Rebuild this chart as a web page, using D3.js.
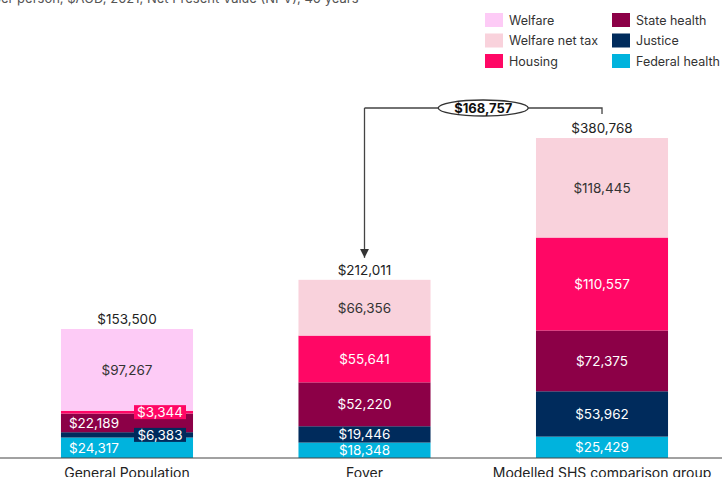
<!DOCTYPE html>
<html>
<head>
<meta charset="utf-8">
<script src="https://cdn.jsdelivr.net/npm/d3@7"></script>
<style>
  body { margin: 0; background: #fff; }
  svg { display: block; font-family: Inter, "Liberation Sans", sans-serif; }
</style>
</head>
<body>
<svg id="chart" width="722" height="477"></svg>
<script>
// data
const categories = ["General Population", "Fover", "Modelled SHS comparison group"];
const federalHealth = [24317, 18348, 25429];
const justice = [6383, 19446, 53962];
const stateHealth = [22189, 52220, 72375];
const housing = [3344, 55641, 110557];
const welfareNetTax = [0, 66356, 118445];
const welfare = [97267, 0, 0];

const seriesNames = ["Federal health", "Justice", "State health", "Housing", "Welfare net tax", "Welfare"];
const seriesValues = [federalHealth, justice, stateHealth, housing, welfareNetTax, welfare];
const seriesColors = ["#00b3dd", "#002b5c", "#8c0047", "#ff0765", "#f9d2dc", "#fdcbf6"];
const legendOrder = ["Welfare", "Welfare net tax", "Housing", "State health", "Justice", "Federal health"];

const svg = d3.select("#chart");
const baseY = 458;

const table = categories.map((c, i) => {
  const row = { cat: c };
  seriesNames.forEach((s, j) => row[s] = seriesValues[j][i]);
  return row;
});
const totals = table.map(r => d3.sum(seriesNames, s => r[s]));

const x = d3.scaleBand()
  .domain(categories)
  .range([8, 721])
  .paddingInner(0.444)
  .paddingOuter(0.223);

const y = d3.scaleLinear()
  .domain([0, d3.max(totals)])
  .range([baseY, 138]);

const color = d3.scaleOrdinal().domain(seriesNames).range(seriesColors);

const stack = d3.stack().keys(seriesNames)(table);

// subtitle, cut at the top like the reference
svg.append("text")
  .attr("x", -7)
  .attr("y", 3)
  .style("font-size", "13px")
  .style("fill", "#555")
  .text("per person, $AUD, 2021, Net Present Value (NPV), 40 years");

// bars
const layers = svg.selectAll(".layer")
  .data(stack)
  .enter().append("g")
  .attr("class", "layer")
  .attr("fill", d => color(d.key));

layers.selectAll("rect")
  .data(d => d.map(p => ({ key: d.key, p: p })))
  .enter().append("rect")
  .attr("x", d => x(d.p.data.cat))
  .attr("y", d => y(d.p[1]))
  .attr("width", x.bandwidth())
  .attr("height", d => y(d.p[0]) - y(d.p[1]));

// segment labels
const darkText = ["Welfare", "Welfare net tax"];
const boxed = ["Housing", "Justice"];
const segs = [];
stack.forEach(layer => layer.forEach(p => {
  const v = p[1] - p[0];
  if (v > 0) segs.push({ key: layer.key, cat: p.data.cat, v: v, y0: p[0], y1: p[1] });
}));

segs.forEach(s => {
  const cy = (y(s.y0) + y(s.y1)) / 2;
  let cx = x(s.cat) + x.bandwidth() / 2;
  const small = s.cat === "General Population" && s.key !== "Welfare";
  if (small) cx = x(s.cat) + x.bandwidth() * (boxed.includes(s.key) ? 0.75 : 0.25);
  const label = "$" + d3.format(",")(s.v);
  if (small && boxed.includes(s.key)) {
    svg.append("rect")
      .attr("x", cx - 26)
      .attr("y", cy - 7)
      .attr("width", 52)
      .attr("height", 14)
      .attr("fill", color(s.key));
  }
  svg.append("text")
    .attr("x", cx)
    .attr("y", cy)
    .attr("dy", "0.36em")
    .attr("text-anchor", "middle")
    .style("font-size", "13.5px")
    .style("fill", darkText.includes(s.key) ? "#333" : "#fff")
    .text(label);
});

// totals above bars
svg.selectAll(".total")
  .data(categories)
  .enter().append("text")
  .attr("class", "total")
  .attr("x", d => x(d) + x.bandwidth() / 2)
  .attr("y", (d, i) => y(totals[i]) - 5)
  .attr("text-anchor", "middle")
  .style("font-size", "13.5px")
  .style("fill", "#222")
  .text((d, i) => "$" + d3.format(",")(totals[i]));

// x axis
const xAxis = svg.append("g")
  .attr("transform", `translate(0,${baseY})`)
  .call(d3.axisBottom(x).tickSize(0).tickPadding(10));
xAxis.select(".domain").remove();
xAxis.selectAll("text")
  .style("font-size", "14px")
  .style("font-family", "Inter, 'Liberation Sans', sans-serif")
  .style("fill", "#222");
svg.append("line")
  .attr("x1", 0).attr("x2", 722)
  .attr("y1", baseY).attr("y2", baseY)
  .attr("stroke", "#444")
  .attr("stroke-width", 1);

// difference annotation between Fover and SHS
const diff = totals[2] - totals[1];
const ax1 = x(categories[1]) + x.bandwidth() / 2;
const ax2 = x(categories[2]) + x.bandwidth() / 2;
const topY = 108;
const ex = (ax1 + ax2) / 2;
svg.append("defs").append("marker")
  .attr("id", "arrow")
  .attr("viewBox", "0 0 10 10")
  .attr("refX", 10).attr("refY", 5)
  .attr("markerWidth", 7).attr("markerHeight", 8)
  .attr("orient", "auto")
  .append("path")
  .attr("d", "M0,0 L10,5 L0,10 z")
  .attr("fill", "#333");

svg.append("path")
  .attr("d", `M${ax1},${topY} V${y(totals[1]) - 22}`)
  .attr("fill", "none")
  .attr("stroke", "#444")
  .attr("stroke-width", 1.3)
  .attr("marker-end", "url(#arrow)");
svg.append("path")
  .attr("d", `M${ax1},${topY} H${ax2} V${y(totals[2]) - 24}`)
  .attr("fill", "none")
  .attr("stroke", "#444")
  .attr("stroke-width", 1.3);
svg.append("ellipse")
  .attr("cx", ex).attr("cy", topY)
  .attr("rx", 45).attr("ry", 8)
  .attr("fill", "#fff")
  .attr("stroke", "#333")
  .attr("stroke-width", 1.3);
svg.append("text")
  .attr("x", ex).attr("y", topY)
  .attr("dy", "0.36em")
  .attr("text-anchor", "middle")
  .style("font-size", "13px")
  .style("font-weight", "bold")
  .style("fill", "#111")
  .text("$" + d3.format(",")(diff));

// legend
const legend = svg.append("g");
legendOrder.forEach((name, i) => {
  const col = Math.floor(i / 3), row = i % 3;
  const g = legend.append("g")
    .attr("transform", `translate(${485 + col * 127},${13 + row * 20.5})`);
  g.append("rect")
    .attr("width", 18).attr("height", 14)
    .attr("fill", color(name));
  g.append("text")
    .attr("x", 24).attr("y", 7)
    .attr("dy", "0.36em")
    .style("font-size", "12.5px")
    .style("fill", "#333")
    .text(name);
});
</script>
</body>
</html>
